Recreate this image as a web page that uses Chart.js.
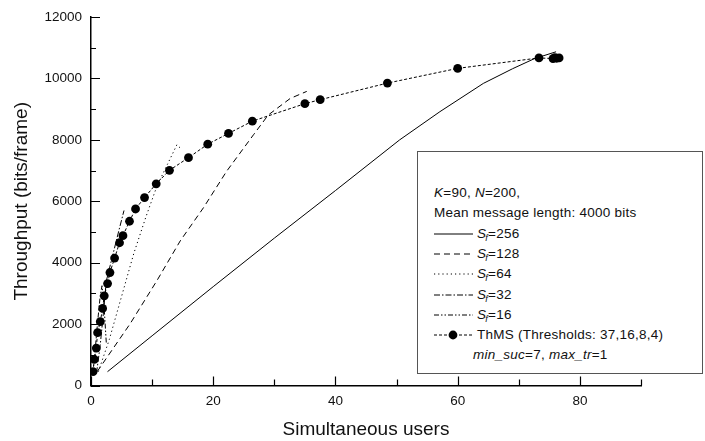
<!DOCTYPE html>
<html lang="en">
<head>
<meta charset="UTF-8">
<title>Throughput vs simultaneous users</title>
<style>
    body {
        margin: 0;
        padding: 0;
        background: #ffffff;
        font-family: Arial, 'Liberation Sans', sans-serif;
    }
    #wrap {
        position: relative;
        width: 705px;
        height: 441px;
    }
    #legend {
        position: absolute;
        left: 417px;
        top: 151px;
        width: 284px;
        height: 221px;
        border: 1.5px solid #555;
        background: #fff;
        font-size: 13.5px;
        letter-spacing: 0.25px;
        color: #111;
    }
    #legend .row {
        position: absolute;
        white-space: nowrap;
        line-height: 16px;
        height: 16px;
    }
    #legend svg {
        position: absolute;
        top: 3px;
    }
    #legend sub {
        font-size: 9px;
        vertical-align: -3px;
        margin-left: -1px;
    }
</style>
</head>
<body>
<div id="wrap">
    <canvas id="myChart" width="705" height="441"></canvas>
    <div id="legend"></div>
</div>

<script src="https://cdn.jsdelivr.net/npm/chart.js"></script>
<script>
    // Axis ticks
    const xTickValues = [0, 20, 40, 60, 80];
    const yTickValues = [0, 2000, 4000, 6000, 8000, 10000, 12000];

    // S_f = 256
    const sf256Users = [2.7, 10, 20, 30, 40, 50.5, 57.1, 64.2, 69, 72.6, 76.1];
    const sf256Thr = [450, 1620, 3220, 4800, 6350, 8000, 8920, 9840, 10320, 10650, 10870];

    // S_f = 128
    const sf128Users = [1.0, 6.4, 10.8, 14.6, 18.4, 22.2, 26.6, 29.0, 32.6, 35.3];
    const sf128Thr = [450, 2010, 3420, 4710, 5790, 6980, 8170, 8810, 9350, 9580];

    // S_f = 64
    const sf64Users = [1.2, 3, 5, 7, 9, 10.8, 12.5, 14.05, 14.9];
    const sf64Thr = [450, 1500, 2900, 4300, 5500, 6500, 7200, 7840, 7680];

    // S_f = 32
    const sf32Users = [0.9, 1.5, 2, 2.5, 3.5, 4.5, 5.4];
    const sf32Thr = [400, 1300, 2300, 3400, 4200, 5000, 5700];

    // S_f = 16
    const sf16Users = [0.3, 0.7, 1.1, 1.5, 1.8, 2.1, 2.5];
    const sf16Thr = [400, 1200, 2100, 2900, 3250, 2700, 1400];

    // ThMS (thresholds 37,16,8,4)
    const thmsUsers = [0.33, 0.54, 0.87, 1.08, 1.52, 1.9, 2.17, 2.71, 3.1, 3.86, 4.67, 5.23, 6.3, 7.29, 8.76,
        10.67, 12.84, 15.95, 19.1, 22.5, 26.4, 35.0, 37.5, 48.5, 60.0, 73.3, 75.6, 75.9, 76.2, 76.6];
    const thmsThr = [450, 850, 1220, 1720, 2080, 2510, 2920, 3320, 3680, 4150, 4650, 4880, 5350, 5750, 6120,
        6570, 7010, 7420, 7860, 8210, 8610, 9180, 9310, 9850, 10330, 10670, 10650, 10680, 10660, 10670];

    const toPoints = (xs, ys) => xs.map((x, i) => ({ x: x, y: ys[i] }));

    function lineSet(label, xs, ys, dash) {
        return {
            label: label,
            data: toPoints(xs, ys),
            showLine: true,
            borderColor: '#000',
            borderWidth: 1,
            borderDash: dash,
            pointRadius: 0,
            tension: 0,
            fill: false
        };
    }

    const datasets = [
        lineSet('=256', sf256Users, sf256Thr, []),
        lineSet('=128', sf128Users, sf128Thr, [6, 4]),
        lineSet('=64', sf64Users, sf64Thr, [1.2, 3]),
        lineSet('=32', sf32Users, sf32Thr, [6, 2, 1.5, 2]),
        lineSet('=16', sf16Users, sf16Thr, [5, 2, 1.5, 2, 1.5, 2]),
        {
            label: 'ThMS (Thresholds: 37,16,8,4)',
            data: toPoints(thmsUsers, thmsThr),
            showLine: true,
            borderColor: '#000',
            borderWidth: 1,
            borderDash: [3, 2],
            pointRadius: 4.4,
            pointBackgroundColor: '#000',
            pointBorderWidth: 0,
            tension: 0
        }
    ];

    // inward tick marks, major + minor
    const innerTicks = {
        id: 'innerTicks',
        afterDraw(chart) {
            const { ctx, chartArea, scales } = chart;
            ctx.save();
            ctx.strokeStyle = '#000';
            ctx.lineWidth = 1.2;
            ctx.beginPath();
            for (let v = 0; v <= 12000; v += 1000) {
                const y = Math.round(scales.y.getPixelForValue(v)) + 0.5;
                const len = v % 2000 === 0 ? 9 : 5;
                ctx.moveTo(chartArea.left, y);
                ctx.lineTo(chartArea.left + len, y);
            }
            for (let v = 0; v <= 90; v += 10) {
                const x = Math.round(scales.x.getPixelForValue(v)) + 0.5;
                const len = v % 20 === 0 ? 9 : 6;
                ctx.moveTo(x, chartArea.bottom);
                ctx.lineTo(x, chartArea.bottom - len);
            }
            ctx.stroke();
            ctx.restore();
        }
    };

    const tickFont = { family: "Arial, 'Liberation Sans', sans-serif", size: 13.5 };
    const titleFont = { family: "Arial, 'Liberation Sans', sans-serif", size: 19 };
    const plainNumber = v => String(v);

    const ctx = document.getElementById('myChart').getContext('2d');
    const chart = new Chart(ctx, {
        type: 'scatter',
        data: { datasets: datasets },
        options: {
            responsive: false,
            animation: false,
            layout: { padding: { top: 15, right: 64, left: 0, bottom: 0 } },
            plugins: {
                legend: { display: false },
                tooltip: { enabled: false }
            },
            scales: {
                x: {
                    type: 'linear',
                    min: 0,
                    max: 90,
                    afterBuildTicks: s => { s.ticks = xTickValues.map(v => ({ value: v })); },
                    afterFit: s => { s.height = 55.5; },
                    grid: { display: true, drawOnChartArea: false, drawTicks: false },
                    border: { display: true, color: '#000', width: 1.5 },
                    ticks: { color: '#111', font: tickFont, padding: 8, maxRotation: 0, callback: plainNumber },
                    title: {
                        display: true,
                        text: 'Simultaneous users',
                        color: '#111',
                        font: titleFont,
                        padding: { top: 0, bottom: 0 }
                    }
                },
                y: {
                    type: 'linear',
                    min: 0,
                    max: 12000,
                    afterBuildTicks: s => { s.ticks = yTickValues.map(v => ({ value: v })); },
                    afterFit: s => { s.width = 91; },
                    grid: { display: true, drawOnChartArea: false, drawTicks: false },
                    border: { display: true, color: '#000', width: 1.5 },
                    ticks: { color: '#111', font: tickFont, padding: 9, callback: plainNumber },
                    title: {
                        display: true,
                        text: 'Throughput (bits/frame)',
                        color: '#111',
                        font: titleFont,
                        padding: { top: 10, bottom: 0 }
                    }
                }
            }
        },
        plugins: [innerTicks]
    });

    // legend box, built from the dataset styles
    const legend = document.getElementById('legend');
    const rowTop = i => 33 + i * 20.3;

    function addRow(i, left, html) {
        const row = document.createElement('div');
        row.className = 'row';
        row.style.top = rowTop(i) + 'px';
        row.style.left = left + 'px';
        row.innerHTML = html;
        legend.appendChild(row);
    }

    addRow(0, 16, '<i>K</i>=90, <i>N</i>=200,');
    addRow(1, 16, 'Mean message length: 4000 bits');

    datasets.forEach((ds, i) => {
        const dash = ds.borderDash.length ? ds.borderDash.join(',') : 'none';
        let svg = '<svg width="40" height="10" style="left:0">' +
            '<line x1="0" y1="5" x2="39" y2="5" stroke="#000" stroke-width="1" stroke-dasharray="' + dash + '"/>';
        if (ds.pointRadius) {
            svg += '<circle cx="19" cy="5" r="' + ds.pointRadius + '" fill="#000"/>';
        }
        svg += '</svg>';
        const text = ds.pointRadius ? ds.label : '<i>S<sub>f</sub></i>' + ds.label;
        addRow(i + 2, 16, svg + '<span style="margin-left:43px">' + text + '</span>');
    });

    addRow(8, 55, '<i>min_suc</i>=7, <i>max_tr</i>=1');
</script>
</body>
</html>
